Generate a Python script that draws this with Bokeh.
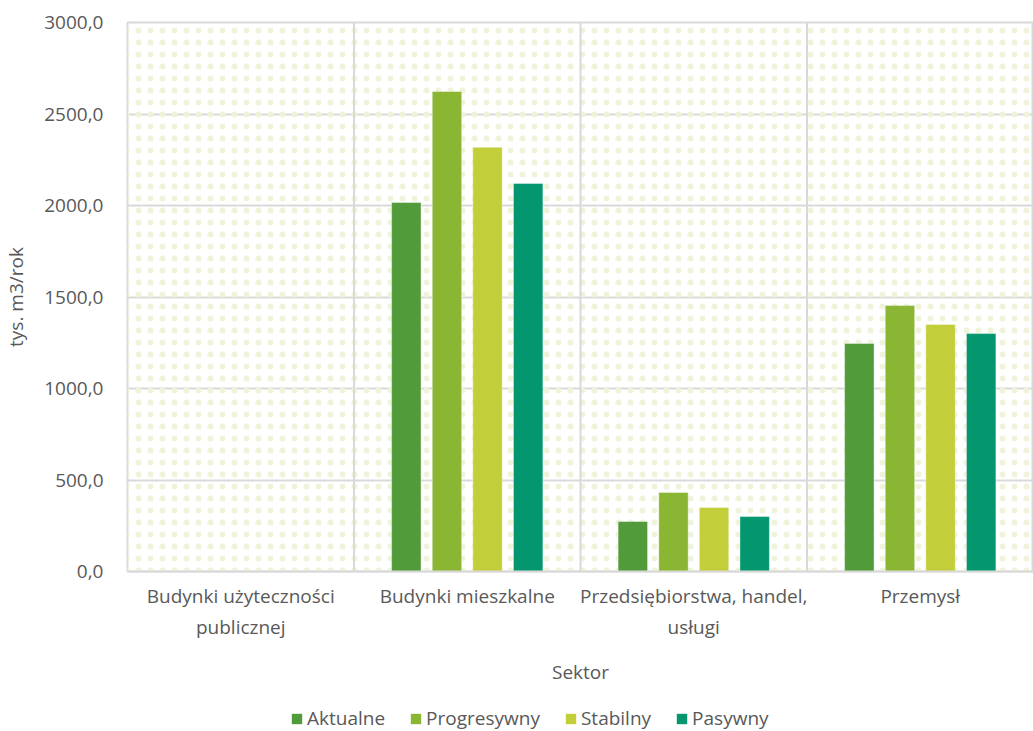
from bokeh.plotting import figure
from bokeh.models import (ColumnDataSource, FactorRange, Range1d, Legend, LegendItem,
                          Span, BoxAnnotation, CustomJSTickFormatter, FixedTicker)
from bokeh.layouts import column
from bokeh.transform import dodge
from bokeh.embed import file_html
from bokeh.resources import INLINE

categories = ["Budynki użyteczności\npublicznej", "Budynki mieszkalne",
              "Przedsiębiorstwa, handel,\nusługi", "Przemysł"]
aktualne = [0, 2016, 273, 1246]
progresywny = [0, 2623, 432, 1454]
stabilny = [0, 2318, 350, 1350]
pasywny = [0, 2120, 300, 1300]
series_names = ["Aktualne", "Progresywny", "Stabilny", "Pasywny"]
series_keys = ["aktualne", "progresywny", "stabilny", "pasywny"]
colors = ["#519B3A", "#8AB634", "#C3CF3A", "#04966F"]
y_ticks = [0, 500, 1000, 1500, 2000, 2500, 3000]

src = ColumnDataSource(dict(cat=categories, aktualne=aktualne, progresywny=progresywny,
                            stabilny=stabilny, pasywny=pasywny))

FONT = "Open Sans"
TXT = "#595959"
FS = "19px"

p = figure(width=1033, height=700, x_range=FactorRange(*categories, range_padding=0),
           y_range=Range1d(0, 3000), output_backend="svg", toolbar_location=None,
           min_border_left=127, min_border_top=22, min_border_right=0, min_border_bottom=129)

p.background_fill_color = "white"
p.border_fill_color = "white"
p.outline_line_color = "#D9D9D9"
p.outline_line_width = 2

bg = BoxAnnotation(fill_alpha=0, line_alpha=0, hatch_pattern="dot",
                   hatch_color="#EFF3DA", hatch_scale=12, hatch_weight=1.3, level="underlay")
p.add_layout(bg)

offsets = [-0.269, -0.0895, 0.0895, 0.269]
for key, name, col, off in zip(series_keys, series_names, colors, offsets):
    p.vbar(x=dodge("cat", off, range=p.x_range), top=key, width=0.13, bottom=0,
           source=src, fill_color=col, line_color="white", line_alpha=0.4, line_width=1)

for loc in [1, 2, 3]:
    p.add_layout(Span(location=loc, dimension="height", line_color="#D9D9D9", line_width=2,
                      level="underlay"))

p.xgrid.grid_line_color = None
p.ygrid.ticker = FixedTicker(ticks=y_ticks)
p.ygrid.grid_line_color = "#D9D9D9"
p.ygrid.grid_line_width = 2

p.yaxis.ticker = FixedTicker(ticks=y_ticks)
p.yaxis.formatter = CustomJSTickFormatter(code="return tick.toFixed(1).replace('.', ',');")
p.yaxis.axis_line_color = None
p.yaxis.major_tick_line_color = None
p.yaxis.minor_tick_line_color = None
p.yaxis.major_label_standoff = 18
p.yaxis.axis_label = "tys. m3/rok"
p.yaxis.axis_label_standoff = 12

p.xaxis.axis_line_color = "#D9D9D9"
p.xaxis.axis_line_width = 2
p.xaxis.major_tick_line_color = None
p.xaxis.minor_tick_line_color = None
p.xaxis.major_label_standoff = 5
p.xaxis.axis_label = "Sektor"
p.xaxis.axis_label_standoff = 16

for ax in [p.xaxis[0], p.yaxis[0]]:
    ax.major_label_text_font = FONT
    ax.major_label_text_font_size = FS
    ax.major_label_text_color = TXT
    ax.axis_label_text_font = FONT
    ax.axis_label_text_font_size = FS
    ax.axis_label_text_color = TXT
    ax.axis_label_text_font_style = "normal"

# legend strip below the chart (frame aligned with main chart by the column layout)
p2 = figure(width=1033, height=31, x_range=Range1d(0, 906), y_range=Range1d(0, 31),
            output_backend="svg", toolbar_location=None, x_axis_location=None,
            y_axis_location=None, min_border=0)
p2.outline_line_color = None
p2.grid.grid_line_color = None
p2.background_fill_color = "white"
p2.border_fill_color = "white"
proxy = ColumnDataSource(dict(x=[-500], top=[-500]))
items = []
for name, col in zip(series_names, colors):
    r = p2.vbar(x="x", top="top", width=1, source=proxy, fill_color=col, line_color=None)
    items.append(LegendItem(label=name, renderers=[r]))

legend = Legend(items=items, orientation="horizontal", location=(163, 0),
                label_text_font=FONT, label_text_font_size=FS, label_text_color=TXT,
                glyph_width=13, glyph_height=13, label_standoff=4, spacing=24,
                border_line_color=None, background_fill_alpha=0, padding=0,
                margin=0, label_height=16)
p2.add_layout(legend, "center")

layout = column(p, p2, spacing=0)
open("out.html", "w").write(file_html(layout, INLINE))
